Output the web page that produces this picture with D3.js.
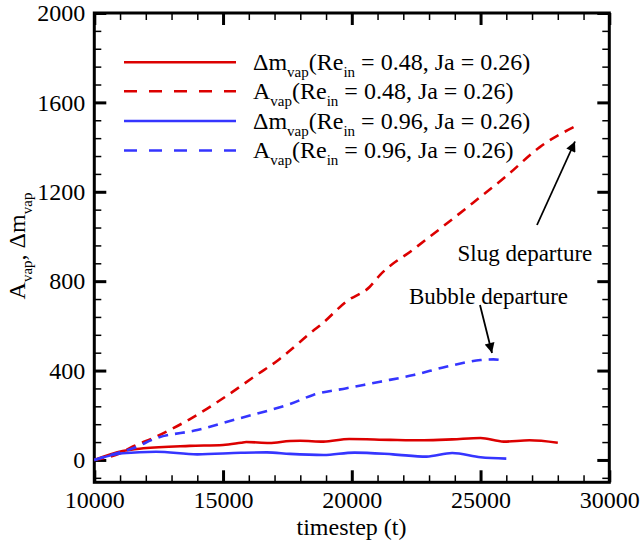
<!DOCTYPE html>
<html>
<head>
<meta charset="utf-8">
<script src="https://cdn.jsdelivr.net/npm/d3@7"></script>
<style>
  html, body { margin: 0; padding: 0; background: #fff; }
  svg { display: block; font-family: "Liberation Serif", "Times New Roman", serif; }
</style>
</head>
<body>
<svg id="chart" width="640" height="548"></svg>
<script>
// Vapour mass change and vapour area vs. timestep
const xMajorTicks = [10000, 15000, 20000, 25000, 30000];
const yMajorTicks = [0, 400, 800, 1200, 1600, 2000];

// Δm_vap, Re_in = 0.48
const tMassLow = [10000, 11100, 11900, 13700, 15000, 15700, 15900, 16800, 17600, 18000, 18900, 19900, 21500, 22800, 23900, 25000, 25900, 26900, 28000];
const vMassLow = [0, 40, 52, 63, 67, 77, 80, 76, 85, 86, 82, 94, 90, 88, 92, 98, 82, 88, 77];

// A_vap, Re_in = 0.48
const tAreaLow = [10000, 11000, 11500, 12400, 13700, 15000, 16300, 17200, 17600, 18500, 18800, 19800, 20700, 21100, 22400, 23700, 24700, 26000, 27300, 28800];
const vAreaLow = [0, 30, 60, 104, 182, 276, 380, 452, 490, 578, 605, 710, 775, 828, 943, 1059, 1150, 1270, 1400, 1500];

// Δm_vap, Re_in = 0.96
const tMassHigh = [10000, 11100, 12400, 14000, 15700, 16700, 17600, 18900, 20100, 21600, 22900, 23900, 25000, 26000];
const vMassHigh = [0, 30, 37, 25, 32, 34, 27, 22, 33, 25, 15, 31, 12, 6];

// A_vap, Re_in = 0.96
const tAreaHigh = [10000, 11000, 11500, 12400, 14000, 15400, 16600, 17600, 18500, 19800, 21100, 22400, 23700, 25000, 25500, 25900];
const vAreaHigh = [0, 35, 52, 97, 134, 179, 216, 250, 291, 321, 350, 380, 418, 447, 450, 445];

const RED = "#dc0000";
const BLUE = "#3535ff";

const svg = d3.select("#chart");
const x = d3.scaleLinear().domain([10000, 30000]).range([94.3, 609.3]);
const y = d3.scaleLinear().domain([-100, 2000]).range([482.3, 13]);

const xMinor = d3.range(10000, 30001, 1000).filter(v => !xMajorTicks.includes(v));
const yMinor = d3.range(-80, 2001, 80).filter(v => v % 400 !== 0);

function styleAxis(g, width) {
  g.select(".domain").remove();
  g.selectAll(".tick line").attr("stroke", "#000").attr("stroke-width", width);
  g.selectAll(".tick text").attr("fill", "#000").attr("font-size", 24)
    .attr("font-family", '"Liberation Serif", "Times New Roman", serif');
}

const x0 = x.range()[0], x1 = x.range()[1];
const y0 = y.range()[0], y1 = y.range()[1];

// bottom axis with labels
svg.append("g").attr("transform", `translate(0,${y0})`)
  .call(d3.axisBottom(x).tickValues(xMajorTicks).tickSizeInner(-12).tickSizeOuter(0).tickPadding(8.5).tickFormat(d3.format("d")))
  .call(g => styleAxis(g, 3));
svg.append("g").attr("transform", `translate(0,${y0})`)
  .call(d3.axisBottom(x).tickValues(xMinor).tickSizeInner(-7).tickSizeOuter(0).tickFormat(""))
  .call(g => styleAxis(g, 1.5));
// top axis
svg.append("g").attr("transform", `translate(0,${y1})`)
  .call(d3.axisTop(x).tickValues(xMajorTicks).tickSizeInner(-12).tickSizeOuter(0).tickFormat(""))
  .call(g => styleAxis(g, 3));
svg.append("g").attr("transform", `translate(0,${y1})`)
  .call(d3.axisTop(x).tickValues(xMinor).tickSizeInner(-7).tickSizeOuter(0).tickFormat(""))
  .call(g => styleAxis(g, 1.5));
// left axis with labels
svg.append("g").attr("transform", `translate(${x0},0)`)
  .call(d3.axisLeft(y).tickValues(yMajorTicks).tickSizeInner(-12).tickSizeOuter(0).tickPadding(9).tickFormat(d3.format("d")))
  .call(g => styleAxis(g, 3));
svg.append("g").attr("transform", `translate(${x0},0)`)
  .call(d3.axisLeft(y).tickValues(yMinor).tickSizeInner(-7).tickSizeOuter(0).tickFormat(""))
  .call(g => styleAxis(g, 1.5));
// right axis
svg.append("g").attr("transform", `translate(${x1},0)`)
  .call(d3.axisRight(y).tickValues(yMajorTicks).tickSizeInner(-12).tickSizeOuter(0).tickFormat(""))
  .call(g => styleAxis(g, 3));
svg.append("g").attr("transform", `translate(${x1},0)`)
  .call(d3.axisRight(y).tickValues(yMinor).tickSizeInner(-7).tickSizeOuter(0).tickFormat(""))
  .call(g => styleAxis(g, 1.5));

// frame
svg.append("rect")
  .attr("x", x0).attr("y", y1).attr("width", x1 - x0).attr("height", y0 - y1)
  .attr("fill", "none").attr("stroke", "#000").attr("stroke-width", 3);

// curves
const line = d3.line().x(d => x(d[0])).y(d => y(d[1])).curve(d3.curveMonotoneX);
const series = [
  { t: tMassLow, v: vMassLow, color: RED, dash: null },
  { t: tAreaLow, v: vAreaLow, color: RED, dash: "10,7" },
  { t: tMassHigh, v: vMassHigh, color: BLUE, dash: null },
  { t: tAreaHigh, v: vAreaHigh, color: BLUE, dash: "10,7" }
];
series.forEach(s => {
  svg.append("path")
    .datum(s.t.map((t, i) => [t, s.v[i]]))
    .attr("d", line)
    .attr("fill", "none")
    .attr("stroke", s.color)
    .attr("stroke-width", 2.6)
    .attr("stroke-dasharray", s.dash);
});

// legend
const legendItems = [
  { sym: "Δm", re: "0.48", color: RED, dash: null },
  { sym: "A", re: "0.48", color: RED, dash: "13,12" },
  { sym: "Δm", re: "0.96", color: BLUE, dash: null },
  { sym: "A", re: "0.96", color: BLUE, dash: "13,12" }
];
const legendY = [62.3, 91.3, 121, 150.5];
legendItems.forEach((d, i) => {
  const ly = legendY[i];
  svg.append("line")
    .attr("x1", 124).attr("x2", 236).attr("y1", ly).attr("y2", ly)
    .attr("stroke", d.color).attr("stroke-width", 2.6)
    .attr("stroke-dasharray", d.dash);
  const txt = svg.append("text").attr("x", 253).attr("y", ly + 7.5)
    .attr("font-size", 24).attr("fill", "#000");
  txt.append("tspan").text(d.sym);
  txt.append("tspan").attr("font-size", 15).attr("dy", 7).text("vap");
  txt.append("tspan").attr("dy", -7).text("(Re");
  txt.append("tspan").attr("font-size", 15).attr("dy", 7).text("in");
  txt.append("tspan").attr("dy", -7).text(` = ${d.re}, Ja = 0.26)`);
});

// axis titles
svg.append("text")
  .attr("x", 351.5).attr("y", 534.5)
  .attr("text-anchor", "middle").attr("font-size", 24).attr("fill", "#000")
  .text("timestep (t)");

const yTitle = svg.append("text")
  .attr("transform", "translate(25,246) rotate(-90)")
  .attr("text-anchor", "middle").attr("font-size", 24).attr("fill", "#000");
yTitle.append("tspan").text("A");
yTitle.append("tspan").attr("font-size", 15).attr("dy", 7).text("vap");
yTitle.append("tspan").attr("dy", -7).text(", Δm");
yTitle.append("tspan").attr("font-size", 15).attr("dy", 7).text("vap");

// annotations
const defs = svg.append("defs");
defs.append("marker")
  .attr("id", "arrowhead")
  .attr("viewBox", "0 0 10 10").attr("refX", 10).attr("refY", 5)
  .attr("markerWidth", 14).attr("markerHeight", 10)
  .attr("markerUnits", "userSpaceOnUse")
  .attr("orient", "auto")
  .append("path").attr("d", "M0,0 L10,5 L0,10 Z").attr("fill", "#000");

const annotations = [
  { label: "Slug departure", tx: 457.5, ty: 261, from: [537, 225], to: [575, 141.5] },
  { label: "Bubble departure", tx: 409, ty: 304, from: [480, 305], to: [492, 353] }
];
annotations.forEach(a => {
  svg.append("line")
    .attr("x1", a.from[0]).attr("y1", a.from[1]).attr("x2", a.to[0]).attr("y2", a.to[1])
    .attr("stroke", "#000").attr("stroke-width", 1.8)
    .attr("marker-end", "url(#arrowhead)");
  svg.append("text").attr("x", a.tx).attr("y", a.ty)
    .attr("font-size", 23).attr("fill", "#000").text(a.label);
});
</script>
</body>
</html>
